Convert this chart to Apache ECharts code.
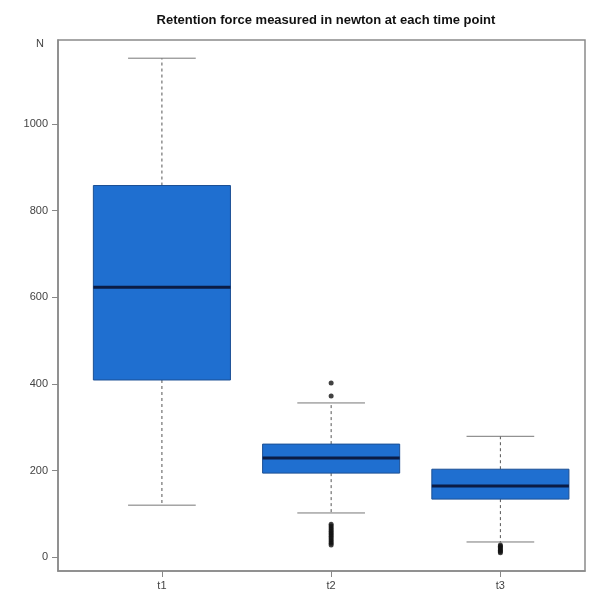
<!DOCTYPE html>
<html><head><meta charset="utf-8">
<script src="https://cdn.jsdelivr.net/npm/echarts@6/dist/echarts.min.js"></script>
<style>html,body{margin:0;padding:0;background:#fff}#c{width:598px;height:608px}</style>
</head><body><div id="c"></div>
<script>
var categories = ['t1', 't2', 't3'];
var whiskerLow = [120, 102, 35];
var q1 = [409, 194, 134];
var median = [623, 229, 164];
var q3 = [858, 261, 203];
var whiskerHigh = [1152, 356, 279];
var outliersT1 = [];
var outliersT2 = [402, 372, 76, 72, 68, 64, 60, 56, 52, 48, 44, 40, 36, 32, 28];
var outliersT3 = [28, 25, 22, 19, 16, 13, 10];
var yTicks = [0, 200, 400, 600, 800, 1000];

var boxData = categories.map(function (c, i) {
  return [i + 1, whiskerLow[i], q1[i], median[i], q3[i], whiskerHigh[i]];
});
var outData = [];
[outliersT1, outliersT2, outliersT3].forEach(function (arr, i) {
  arr.forEach(function (v) { outData.push([i + 1, v]); });
});

var chart = echarts.init(document.getElementById('c'), null, {renderer: 'canvas'});
var boxW = 0.81, capW = 0.4;
chart.setOption({
  animation: false,
  backgroundColor: '#fff',
  title: {
    text: 'Retention force measured in newton at each time point',
    left: 321, top: 9, textAlign: 'center',
    textStyle: {fontFamily: 'Liberation Sans', fontSize: 13, fontWeight: 'bold', color: '#111'}
  },
  graphic: [{
    type: 'text', left: 36, top: 38,
    style: {text: 'N', fontFamily: 'Liberation Sans', fontSize: 11, fill: '#444'}
  }],
  grid: {left: 58, top: 40, right: 13, bottom: 37, show: true, borderColor: '#8a8a8a', borderWidth: 1.5, backgroundColor: 'transparent'},
  xAxis: {
    type: 'value', min: 0.386, max: 3.5,
    splitLine: {show: false},
    axisLine: {show: true, onZero: false, lineStyle: {color: '#8a8a8a', width: 1.5}},
    axisTick: {show: true, customValues: [1, 2, 3], length: 6, lineStyle: {color: '#888'}},
    axisLabel: {customValues: [1, 2, 3], margin: 9, color: '#444', fontFamily: 'Liberation Sans', fontSize: 11,
      formatter: function (v) { return categories[Math.round(v) - 1]; }}
  },
  yAxis: {
    type: 'value', min: -32, max: 1194,
    splitLine: {show: false},
    axisLine: {show: true, onZero: false, lineStyle: {color: '#8a8a8a', width: 1.5}},
    axisTick: {show: true, customValues: yTicks, length: 6, lineStyle: {color: '#888'}},
    axisLabel: {customValues: yTicks, margin: 10, color: '#444', fontFamily: 'Liberation Sans', fontSize: 11,
      formatter: function (v) { return String(v); }}
  },
  series: [{
    type: 'custom',
    data: boxData,
    encode: {x: 0, y: [1, 2, 3, 4, 5]},
    renderItem: function (params, api) {
      var x = api.value(0);
      var pLow = api.coord([x, api.value(1)]);
      var pQ1 = api.coord([x, api.value(2)]);
      var pMed = api.coord([x, api.value(3)]);
      var pQ3 = api.coord([x, api.value(4)]);
      var pHigh = api.coord([x, api.value(5)]);
      var left = api.coord([x - boxW / 2, 0])[0];
      var right = api.coord([x + boxW / 2, 0])[0];
      var cl = api.coord([x - capW / 2, 0])[0];
      var cr = api.coord([x + capW / 2, 0])[0];
      var dash = {stroke: '#555', lineWidth: 1, lineDash: [3, 3]};
      var solid = {stroke: '#777', lineWidth: 1};
      return {
        type: 'group',
        children: [
          {type: 'line', shape: {x1: pQ3[0], y1: pQ3[1], x2: pHigh[0], y2: pHigh[1]}, style: dash},
          {type: 'line', shape: {x1: pQ1[0], y1: pQ1[1], x2: pLow[0], y2: pLow[1]}, style: dash},
          {type: 'line', shape: {x1: cl, y1: pHigh[1], x2: cr, y2: pHigh[1]}, style: solid},
          {type: 'line', shape: {x1: cl, y1: pLow[1], x2: cr, y2: pLow[1]}, style: solid},
          {type: 'rect', shape: {x: left, y: pQ3[1], width: right - left, height: pQ1[1] - pQ3[1]},
            style: {fill: '#1f6fd0', stroke: '#1b4f94', lineWidth: 1}},
          {type: 'line', shape: {x1: left, y1: pMed[1], x2: right, y2: pMed[1]}, style: {stroke: '#0b1c45', lineWidth: 3}}
        ]
      };
    }
  }, {
    type: 'scatter',
    data: outData,
    symbol: 'circle',
    symbolSize: 5,
    itemStyle: {color: '#111'}
  }]
});
</script>
</body></html>
